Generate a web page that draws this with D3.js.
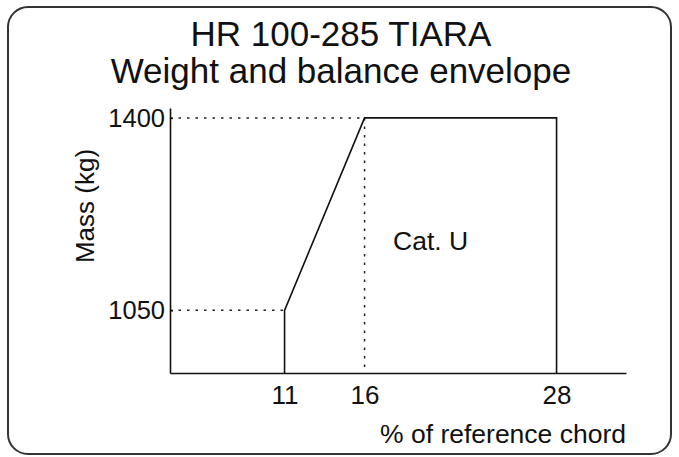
<!DOCTYPE html>
<html>
<head>
<meta charset="utf-8">
<script src="https://cdn.jsdelivr.net/npm/d3@7"></script>
<style>
  body { margin: 0; background: #fff; }
  text { font-family: "Liberation Sans", Arial, sans-serif; fill: #111; }
</style>
</head>
<body>
<div id="chart"></div>
<script>
// envelope corners: % of reference chord and mass (kg)
const cgValues = [11, 11, 16, 28, 28];
const massValues = [936, 1050, 1400, 1400, 936];
const xTicks = [11, 16, 28];
const yTicks = [1050, 1400];
const titleLines = ['HR 100-285 TIARA', 'Weight and balance envelope'];

const width = 679;
const height = 457;

const svg = d3.select('#chart')
  .append('svg')
  .attr('width', width)
  .attr('height', height);

// rounded frame
svg.append('rect')
  .attr('x', 8)
  .attr('y', 7)
  .attr('width', 663)
  .attr('height', 447)
  .attr('rx', 20)
  .attr('fill', 'none')
  .attr('stroke', '#333')
  .attr('stroke-width', 2);

// title
svg.selectAll('.title')
  .data(titleLines)
  .enter()
  .append('text')
  .attr('class', 'title')
  .attr('x', 341)
  .attr('y', (d, i) => 46 + i * 37)
  .attr('text-anchor', 'middle')
  .style('font-size', '35px')
  .text(d => d);

// scales
const x = d3.scaleLinear()
  .domain([3.84, 32.34])
  .range([170, 626]);

const y = d3.scaleLinear()
  .domain([936, 1418])
  .range([373, 108]);

const env = cgValues.map((c, i) => [c, massValues[i]]);

// dotted guide lines
const dotted = svg.append('g')
  .attr('stroke', '#222')
  .attr('stroke-width', 1.5)
  .attr('stroke-dasharray', '2.5,6');

dotted.selectAll('line.h')
  .data(yTicks)
  .enter()
  .append('line')
  .attr('x1', x.range()[0])
  .attr('x2', d => x(env.find(p => p[1] === d)[0]))
  .attr('y1', d => y(d))
  .attr('y2', d => y(d));

dotted.append('line')
  .attr('x1', x(16))
  .attr('x2', x(16))
  .attr('y1', y(1400))
  .attr('y2', y.range()[0]);

// envelope
svg.append('path')
  .datum(env)
  .attr('fill', 'none')
  .attr('stroke', '#111')
  .attr('stroke-width', 1.6)
  .attr('d', d3.line().x(d => x(d[0])).y(d => y(d[1])));

// y axis
const yAxis = svg.append('g')
  .attr('transform', `translate(${x.range()[0]},0)`)
  .call(d3.axisLeft(y).tickValues(yTicks).tickFormat(d3.format('d'))
    .tickSizeInner(-3).tickSizeOuter(0).tickPadding(9));
yAxis.select('.domain').attr('stroke', '#111').attr('stroke-width', 1.6);
yAxis.selectAll('.tick line').attr('stroke', '#111').attr('stroke-width', 1.5);
yAxis.selectAll('.tick text')
  .style('font-size', '25.5px')
  .style('font-family', '"Liberation Sans", Arial, sans-serif')
  .attr('fill', '#111')
  .attr('x', -5);

// x axis
const xAxis = svg.append('g')
  .attr('transform', `translate(0,${y.range()[0]})`)
  .call(d3.axisBottom(x).tickValues(xTicks).tickSize(0).tickPadding(13));
xAxis.select('.domain').attr('stroke', '#111').attr('stroke-width', 1.6);
xAxis.selectAll('.tick text')
  .style('font-size', '26px')
  .style('font-family', '"Liberation Sans", Arial, sans-serif')
  .attr('fill', '#111');

// axis titles
svg.append('text')
  .attr('transform', 'translate(94,206) rotate(-90)')
  .attr('text-anchor', 'middle')
  .style('font-size', '26px')
  .text('Mass (kg)');

svg.append('text')
  .attr('x', 626)
  .attr('y', 443)
  .attr('text-anchor', 'end')
  .style('font-size', '26.5px')
  .text('% of reference chord');

// category label
svg.append('text')
  .attr('x', 393)
  .attr('y', 250)
  .style('font-size', '26.5px')
  .text('Cat. U');
</script>
</body>
</html>
